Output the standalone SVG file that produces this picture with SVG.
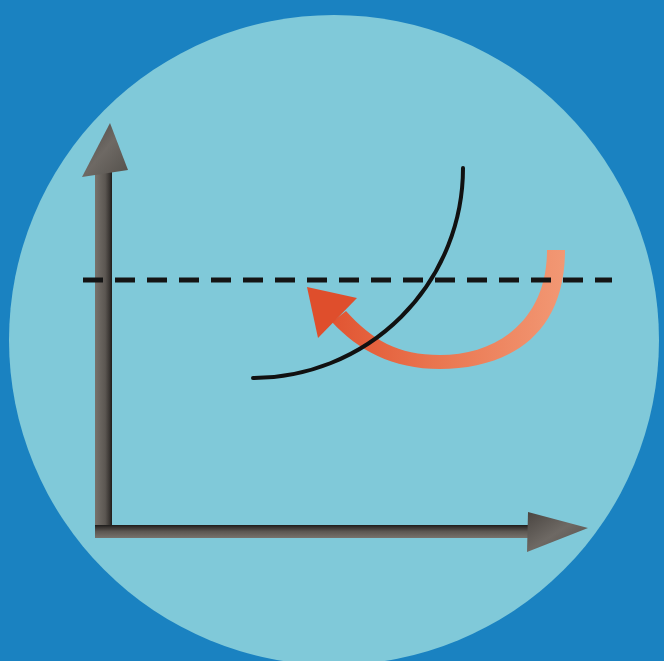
<svg xmlns="http://www.w3.org/2000/svg" width="664" height="661" viewBox="0 0 664 661">
  <defs>
    <linearGradient id="vShaft" x1="0" y1="0" x2="1" y2="0">
      <stop offset="0" stop-color="#77726c"/>
      <stop offset="0.6" stop-color="#5c5752"/>
      <stop offset="0.85" stop-color="#3a3633"/>
      <stop offset="1" stop-color="#1e1c1b"/>
    </linearGradient>
    <linearGradient id="hShaft" x1="0" y1="0" x2="0" y2="1">
      <stop offset="0" stop-color="#1e1c1b"/>
      <stop offset="0.2" stop-color="#3a3633"/>
      <stop offset="0.5" stop-color="#5c5752"/>
      <stop offset="1" stop-color="#77726c"/>
    </linearGradient>
    <linearGradient id="head" x1="0" y1="0" x2="1" y2="1">
      <stop offset="0" stop-color="#4a4541"/>
      <stop offset="0.5" stop-color="#6e6964"/>
      <stop offset="1" stop-color="#54504b"/>
    </linearGradient>
    <linearGradient id="orange" gradientUnits="userSpaceOnUse" x1="310" y1="300" x2="565" y2="300">
      <stop offset="0" stop-color="#df4e2c"/>
      <stop offset="0.5" stop-color="#ea7650"/>
      <stop offset="1" stop-color="#f29874"/>
    </linearGradient>
  </defs>
  <style>
    .curve { fill: none; stroke: #111; stroke-width: 4; stroke-linecap: round; }
    .dash { fill: none; stroke: #141414; stroke-width: 5; stroke-dasharray: 20 12; }
  </style>
  <rect id="background" x="0" y="0" width="664" height="661" fill="#1a82c1"/>
  <circle id="disc" cx="334" cy="340" r="325" fill="#80c9d9"/>

  <g id="axes">
    <rect x="95" y="168" width="17" height="370" fill="url(#vShaft)"/>
    <rect x="95" y="525" width="440" height="13" fill="url(#hShaft)"/>
    <polygon points="110,123 82,177 128,170" fill="url(#head)"/>
    <polygon points="588,528 528,512 527,552" fill="url(#head)"/>
  </g>

  <g id="orange-arrow">
    <path d="M565 250 C565 338 505 369 440 369 C392 369 358 350 332 322 L346 311 C372 340 398 355 440 355 C495 355 547 322 547 250 Z" fill="url(#orange)"/>
    <polygon points="307,287 357,298 318,338" fill="#df4e2c"/>
  </g>

  <g id="dashed-line">
    <line class="dash" x1="83" y1="280" x2="612" y2="280"/>
  </g>

  <g id="curve">
    <path class="curve" d="M463 168 A210 210 0 0 1 253 378"/>
  </g>
</svg>
